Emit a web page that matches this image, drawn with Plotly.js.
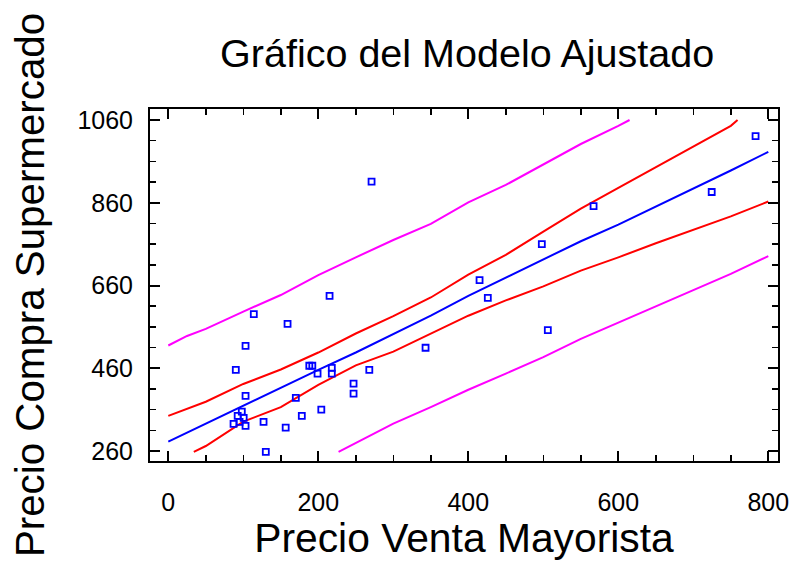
<!DOCTYPE html>
<html>
<head>
<meta charset="utf-8">
<script src="https://cdn.plot.ly/plotly-3.0.1.min.js"></script>
<style>html,body{margin:0;padding:0;background:#fff;}#chart{width:791px;height:561px;}</style>
</head>
<body>
<div id="chart"></div>
<script>
// Observed data points
const ptsX = [271, 215, 114, 159, 103, 90, 188, 192, 218, 199, 218, 268, 247, 247, 103, 170, 204, 178, 98, 92.5, 100.5, 95, 87, 103, 127, 156.5, 130, 783, 724.5, 567, 498, 415, 426, 506, 343];
const ptsY = [911, 635, 591, 567, 514, 456, 466, 466, 461, 447, 447, 456, 423, 398.5, 393, 388.5, 360, 345, 355, 345, 340, 330.5, 325.5, 320.5, 330.5, 316.3, 258, 1021, 886, 852, 760, 673, 630, 552, 509.5];

// Fitted line
const fitX = [0, 50, 100, 150, 200, 250, 300, 350, 400, 450, 500, 550, 600, 650, 700, 750, 800];
const fitY = [282.6, 326, 370, 413, 456, 498, 543, 587, 635, 679, 724, 767, 807, 850, 894, 938, 983];

// Confidence limits
const confUpX = [0, 50, 100, 150, 200, 250, 300, 350, 400, 450, 500, 550, 600, 650, 700, 750, 759];
const confUpY = [345, 379, 422, 457, 498, 544, 586, 631, 686, 734, 790, 846, 896, 946, 996, 1046, 1060];
const confLoX = [34, 50, 100, 150, 200, 250, 300, 350, 400, 450, 500, 550, 600, 650, 700, 750, 800];
const confLoY = [258, 272, 331, 366, 420, 467, 500, 543, 587, 624, 658, 696, 728, 762, 795, 827, 863];

// Prediction limits
const predUpX = [0, 25, 50, 100, 150, 200, 250, 300, 350, 400, 450, 500, 550, 600, 615];
const predUpY = [515, 538, 555, 597, 637, 685, 728, 770, 809, 861, 903, 953, 1002, 1046, 1060];
const predLoX = [227, 250, 300, 350, 400, 450, 500, 550, 600, 650, 700, 750, 800];
const predLoY = [258, 279, 326, 366, 408, 447, 487, 531, 570, 610, 649, 688, 731];

// Axis ticks
const xTickVals = [0, 200, 400, 600, 800];
const xTickText = ['0', '200', '400', '600', '800'];
const yTickVals = [260, 460, 660, 860, 1060];
const yTickText = ['260', '460', '660', '860', '1060'];

const FONT = 'Liberation Sans, Arial, sans-serif';

function line(x, y, color) {
  return {x: x, y: y, type: 'scatter', mode: 'lines', line: {color: color, width: 2}, hoverinfo: 'skip'};
}

const traces = [
  line(predUpX, predUpY, '#ff00ff'),
  line(predLoX, predLoY, '#ff00ff'),
  line(confUpX, confUpY, '#ff0000'),
  line(confLoX, confLoY, '#ff0000'),
  line(fitX, fitY, '#0000ff'),
  {x: ptsX, y: ptsY, type: 'scatter', mode: 'markers',
   marker: {symbol: 'square-open', size: 6, color: '#0000ff', line: {color: '#0000ff', width: 1.8}}}
];

const axisCommon = {
  showgrid: false, zeroline: false, showline: true, linecolor: '#000', linewidth: 2,
  mirror: 'ticks', ticks: 'inside', ticklen: 10, tickwidth: 2, tickcolor: '#000',
  tickfont: {family: FONT, size: 25, color: '#000'},
  tickmode: 'array'
};

const layout = {
  width: 791, height: 561,
  margin: {l: 150, r: 13, t: 109, b: 100},
  paper_bgcolor: '#fff', plot_bgcolor: '#fff',
  showlegend: false,
  title: {text: 'Gráfico del Modelo Ajustado', font: {family: FONT, size: 39.5, color: '#000'},
          xref: 'paper', x: 0.505, xanchor: 'center', yref: 'container', y: 0.905, yanchor: 'middle'},
  xaxis: Object.assign({}, axisCommon, {
    range: [-24.4, 812.9], tickvals: xTickVals, ticktext: xTickText,
    ticklabelstandoff: 18,
    minor: {tickmode: 'linear', tick0: 0, dtick: 50, ticks: 'inside', ticklen: 6, tickwidth: 1.5, tickcolor: '#000'},
    title: {text: 'Precio Venta Mayorista', font: {family: FONT, size: 40.8, color: '#000'}, standoff: 8}
  }),
  yaxis: Object.assign({}, axisCommon, {
    range: [235.8, 1086.6], tickvals: yTickVals, ticktext: yTickText,
    ticklabelstandoff: 10,
    minor: {tickmode: 'linear', tick0: 260, dtick: 50, ticks: 'inside', ticklen: 6, tickwidth: 1.5, tickcolor: '#000'},
    title: {text: 'Precio Compra Supermercado', font: {family: FONT, size: 40.3, color: '#000'}, standoff: 20}
  })
};

Plotly.newPlot('chart', traces, layout, {displayModeBar: false, staticPlot: true});
</script>
</body>
</html>
